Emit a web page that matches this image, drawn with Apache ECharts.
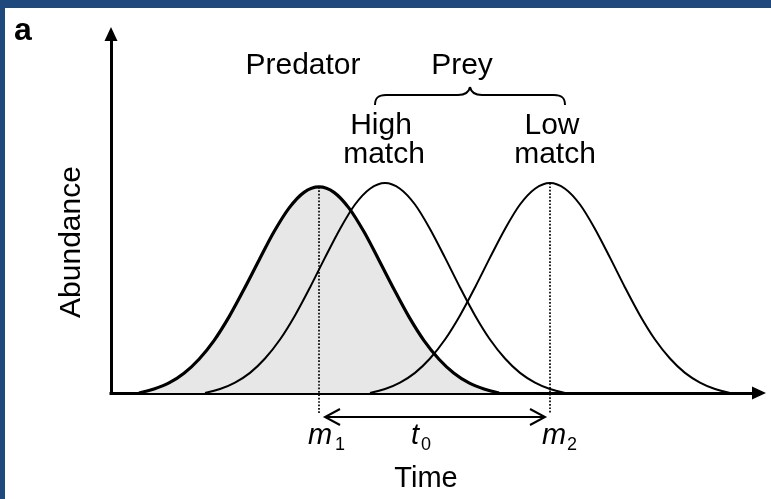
<!DOCTYPE html>
<html>
<head>
<meta charset="utf-8">
<script src="https://cdn.jsdelivr.net/npm/echarts@6/dist/echarts.min.js"></script>
<style>
  html, body { margin: 0; padding: 0; background: #fff; }
  #chart { width: 771px; height: 499px; }
</style>
</head>
<body>
<div id="chart"></div>
<script>
// time (x) and abundance (y) samples
const predX = [2.8, 4.3, 5.8, 7.3, 8.8, 10.3, 11.8, 13.3, 14.8, 16.3, 17.8, 19.3, 20.8, 22.3, 23.8, 25.3, 26.8, 28.3, 29.8, 31.3, 32.8, 34.3, 35.8, 37.3, 38.8]
const predY = [0, 1.1, 2.8, 5.5, 9.4, 14.6, 21.2, 28.9, 37.0, 44.9, 51.5, 55.9, 57.4, 55.9, 51.5, 44.9, 37.0, 28.9, 21.2, 14.6, 9.4, 5.5, 2.8, 1.1, 0]
const highX = [9.4, 10.9, 12.4, 13.9, 15.4, 16.9, 18.4, 19.9, 21.4, 22.9, 24.4, 25.9, 27.4, 28.9, 30.4, 31.9, 33.4, 34.9, 36.4, 37.9, 39.4, 40.9, 42.4, 43.9, 45.4]
const highY = [0, 1.1, 2.9, 5.6, 9.6, 14.9, 21.6, 29.4, 37.7, 45.7, 52.5, 56.9, 58.5, 56.9, 52.5, 45.7, 37.7, 29.4, 21.6, 14.9, 9.6, 5.6, 2.9, 1.1, 0]
const lowX = [25.9, 27.4, 28.9, 30.4, 31.9, 33.4, 34.9, 36.4, 37.9, 39.4, 40.9, 42.4, 43.9, 45.4, 46.9, 48.4, 49.9, 51.4, 52.9, 54.4, 55.9, 57.4, 58.9, 60.4, 61.9]
const lowY = [0, 1.1, 2.9, 5.6, 9.6, 14.9, 21.6, 29.4, 37.7, 45.7, 52.5, 56.9, 58.5, 56.9, 52.5, 45.7, 37.7, 29.4, 21.6, 14.9, 9.6, 5.6, 2.9, 1.1, 0]

const FONT = '"Liberation Sans", Arial, Helvetica, sans-serif'
const INK = '#000'

const zip = (xs, ys) => xs.map((x, i) => [x, ys[i]])
const peakOf = (xs, ys) => {
  const i = ys.indexOf(Math.max(...ys))
  return [xs[i], ys[i]]
}

const chart = echarts.init(document.getElementById('chart'))

const axisLine = {
  show: true,
  onZero: false,
  symbol: ['none', 'triangle'],
  symbolSize: [13, 14],
  lineStyle: { color: INK, width: 3, cap: 'square' },
}

chart.setOption({
  animation: false,
  backgroundColor: '#fff',
  grid: { left: 111, top: 34, right: 12, bottom: 106 },
  xAxis: {
    type: 'value',
    min: 0,
    max: 64.8,
    axisLine,
    axisTick: { show: false },
    axisLabel: { show: false },
    splitLine: { show: false },
  },
  yAxis: {
    type: 'value',
    min: 0,
    max: 100,
    axisLine,
    axisTick: { show: false },
    axisLabel: { show: false },
    splitLine: { show: false },
  },
  series: [
    {
      name: 'Predator',
      type: 'line',
      data: zip(predX, predY),
      smooth: 0.3,
      showSymbol: false,
      silent: true,
      lineStyle: { color: INK, width: 3.2 },
      areaStyle: { color: '#e7e7e7', opacity: 1 },
      z: 2,
    },
    {
      name: 'High match',
      type: 'line',
      data: zip(highX, highY),
      smooth: 0.3,
      showSymbol: false,
      silent: true,
      lineStyle: { color: INK, width: 2 },
      z: 3,
    },
    {
      name: 'Low match',
      type: 'line',
      data: zip(lowX, lowY),
      smooth: 0.3,
      showSymbol: false,
      silent: true,
      lineStyle: { color: INK, width: 2 },
      z: 3,
    },
  ],
})

// annotations placed from the data through the grid
const toPx = (p) => chart.convertToPixel({ gridIndex: 0 }, p)
const m1 = toPx(peakOf(predX, predY))
const m2 = toPx(peakOf(lowX, lowY))
const base = toPx([0, 0])[1]
const dropY = base + 20
const arrowY = base + 24

function txt(text, x, y, size, extra) {
  return {
    type: 'text',
    x, y,
    silent: true,
    style: Object.assign({
      text,
      fontFamily: FONT,
      fontSize: size,
      fill: INK,
      align: 'center',
      verticalAlign: 'middle',
    }, extra || {}),
  }
}

const stroke = { stroke: INK, lineWidth: 2, fill: 'none' }
const dotted = { stroke: INK, lineWidth: 1.7, lineDash: [1.7, 1.7] }

chart.setOption({
  graphic: [
    // page frame
    { type: 'rect', shape: { x: 0, y: 0, width: 771, height: 8 }, style: { fill: '#1f497d' }, silent: true },
    { type: 'rect', shape: { x: 0, y: 0, width: 5, height: 499 }, style: { fill: '#1f497d' }, silent: true },

    // peak markers
    { type: 'line', shape: { x1: m1[0], y1: m1[1], x2: m1[0], y2: dropY }, style: dotted, z: 10 },
    { type: 'line', shape: { x1: m2[0], y1: m2[1], x2: m2[0], y2: dropY }, style: dotted, z: 10 },

    // t0 double arrow
    { type: 'line', shape: { x1: m1[0] + 6, y1: arrowY, x2: m2[0] - 5, y2: arrowY }, style: stroke },
    { type: 'polyline', shape: { points: [[m1[0] + 21, arrowY - 8], [m1[0] + 6, arrowY], [m1[0] + 21, arrowY + 8]] }, style: stroke },
    { type: 'polyline', shape: { points: [[m2[0] - 20, arrowY - 8], [m2[0] - 5, arrowY], [m2[0] - 20, arrowY + 8]] }, style: stroke },

    // prey brace
    { type: 'bezierCurve', shape: { x1: 375, y1: 105, cpx1: 375, cpy1: 98, cpx2: 378, cpy2: 95, x2: 386, y2: 95 }, style: stroke },
    { type: 'line', shape: { x1: 386, y1: 95, x2: 458, y2: 95 }, style: stroke },
    { type: 'bezierCurve', shape: { x1: 458, y1: 95, cpx1: 466, cpy1: 95, cpx2: 469, cpy2: 92, x2: 470, y2: 87 }, style: stroke },
    { type: 'bezierCurve', shape: { x1: 470, y1: 87, cpx1: 471, cpy1: 92, cpx2: 474, cpy2: 95, x2: 482, y2: 95 }, style: stroke },
    { type: 'line', shape: { x1: 482, y1: 95, x2: 554, y2: 95 }, style: stroke },
    { type: 'bezierCurve', shape: { x1: 554, y1: 95, cpx1: 562, cpy1: 95, cpx2: 565, cpy2: 98, x2: 565, y2: 105 }, style: stroke },

    // labels
    txt('a', 14, 31, 32, { align: 'left', fontWeight: 'bold' }),
    txt('Predator', 303, 66, 30),
    txt('Prey', 462, 66, 30),
    txt('High', 381, 126, 30),
    txt('match', 384, 155, 30),
    txt('Low', 552, 126, 30),
    txt('match', 555, 155, 30),
    Object.assign(txt('Abundance', 72, 242, 30), { rotation: Math.PI / 2 }),
    txt('Time', 426, 479, 29),
    txt('m', 320, 436, 29, { fontStyle: 'italic' }),
    txt('1', 335, 445, 18, { align: 'left' }),
    txt('t', 415, 436, 29, { fontStyle: 'italic' }),
    txt('0', 421, 445, 18, { align: 'left' }),
    txt('m', 554, 436, 29, { fontStyle: 'italic' }),
    txt('2', 567, 445, 18, { align: 'left' }),
  ],
})
</script>
</body>
</html>
